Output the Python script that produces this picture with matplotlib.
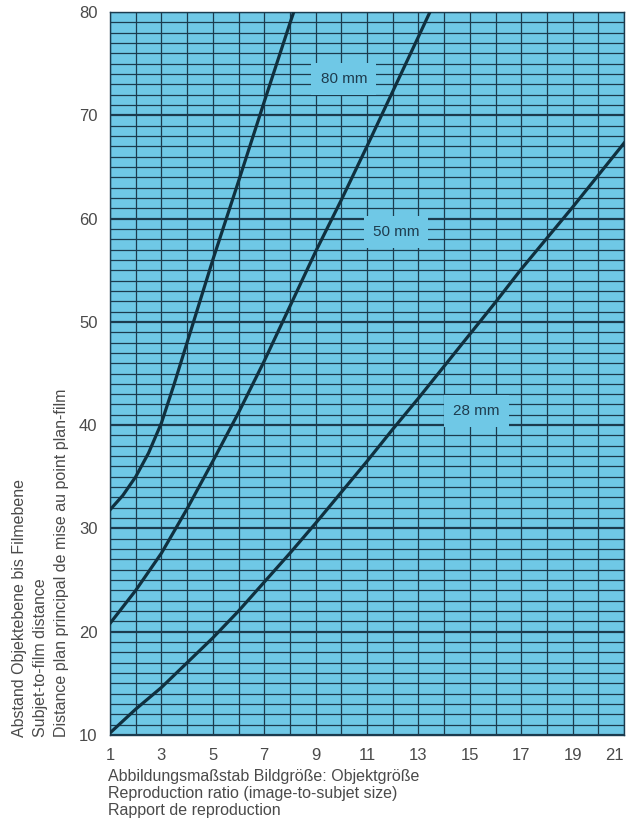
import matplotlib.pyplot as plt
from matplotlib.ticker import MultipleLocator

plt.rcParams['font.family'] = ['Liberation Sans', 'DejaVu Sans']

# reproduction ratio (x) and subject-to-film distance (y)
x_28 = [1, 2, 3, 4, 5, 6, 7, 8, 9, 10, 11, 12, 13, 14, 15, 16, 17, 18, 19, 20, 21]
y_28 = [10.2, 12.5, 14.6, 17.0, 19.4, 22.0, 24.8, 27.6, 30.5, 33.5, 36.5,
        39.6, 42.6, 45.7, 48.8, 51.9, 55.1, 58.1, 61.1, 64.2, 67.3]
x_50 = [1, 2, 3, 4, 5, 6, 7, 8, 9, 10, 11, 12, 13, 13.45]
y_50 = [20.8, 24.0, 27.6, 31.9, 36.5, 41.2, 46.2, 51.5, 56.8, 61.8, 67.0, 72.3, 77.6, 80.0]
x_80 = [1, 1.5, 2, 2.5, 3, 3.5, 4, 5, 6, 7, 8, 8.15]
y_80 = [31.8, 33.2, 35.0, 37.3, 40.2, 44.0, 48.0, 56.0, 63.6, 71.3, 78.9, 80.0]

curve_labels = ['28 mm', '50 mm', '80 mm']
label_x = [15.27, 12.13, 10.1]
label_y = [41.4, 58.7, 73.5]

x_ticks = [1, 3, 5, 7, 9, 11, 13, 15, 17, 19, 21]
y_ticks = [10, 20, 30, 40, 50, 60, 70, 80]

ylabel_lines = ['Abstand Objektebene bis Filmebene',
                'Subjet-to-film distance',
                'Distance plan principal de mise au point plan-film']
xlabel_lines = ['Abbildungsmaßstab Bildgröße: Objektgröße',
                'Reproduction ratio (image-to-subjet size)',
                'Rapport de reproduction']

bg = '#6fc8e6'
grid_col = '#1b3b4e'
line_col = '#10303f'
text_col = '#4a4a4a'

fig = plt.figure(figsize=(6.3, 8.23), dpi=100)
ax = fig.add_axes([110 / 630, 88 / 823, 514 / 630, 723 / 823])
ax.set_facecolor(bg)

ax.set_xlim(1, 21)
ax.set_ylim(10, 80)
ax.set_xticks(x_ticks)
ax.set_yticks(y_ticks)
ax.xaxis.set_minor_locator(MultipleLocator(1))
ax.yaxis.set_minor_locator(MultipleLocator(1))
ax.grid(which='minor', color=grid_col, lw=0.9)
ax.grid(which='major', axis='x', color=grid_col, lw=0.9)
ax.grid(which='major', axis='y', color=grid_col, lw=1.6)
ax.set_axisbelow(True)
ax.tick_params(which='both', length=0, labelsize=12, labelcolor=text_col)
ax.tick_params(axis='x', pad=9)
ax.tick_params(axis='y', pad=9)
ax.get_xticklabels()[-1].set_horizontalalignment('right')
for s in ax.spines.values():
    s.set_color(grid_col)
    s.set_linewidth(1.0)

for xs, ys in [(x_28, y_28), (x_50, y_50), (x_80, y_80)]:
    ax.plot(xs, ys, color=line_col, lw=2.3, solid_joinstyle='round', zorder=3)

for lab, lx, ly in zip(curve_labels, label_x, label_y):
    ax.text(lx, ly, lab, ha='center', va='center', fontsize=11, color='#1e3c4e', zorder=4,
            bbox=dict(boxstyle='square,pad=0.6', facecolor=bg, edgecolor='none'))

for i, line in enumerate(ylabel_lines):
    fig.text((20 + 21 * i) / 630, 86 / 823, line, rotation=90, ha='center', va='bottom',
             fontsize=11.5, color=text_col)

for i, line in enumerate(xlabel_lines):
    fig.text(108 / 630, 1 - (777 + 16.5 * i) / 823, line, ha='left', va='center',
             fontsize=11.5, color=text_col)

fig.savefig('out.png', dpi=100)
